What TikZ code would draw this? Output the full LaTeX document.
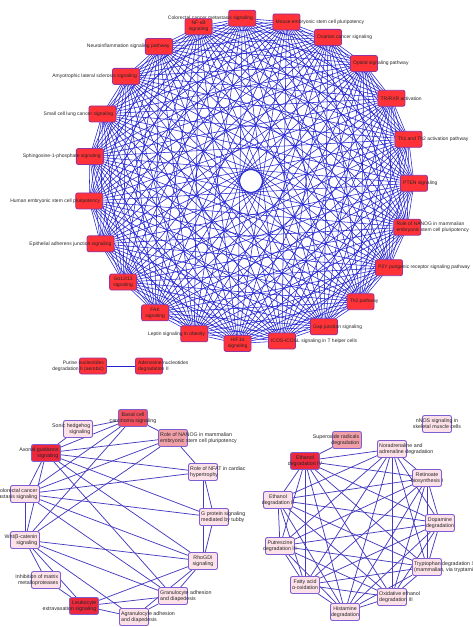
\documentclass[tikz,border=0pt]{standalone}
\usepackage{fontspec}
\setmainfont{Liberation Sans}
\usetikzlibrary{backgrounds}
\definecolor{edgeT}{RGB}{35,35,210}
\definecolor{edgeB}{RGB}{70,60,190}
\definecolor{redT}{RGB}{255,50,55}
\definecolor{borderT}{RGB}{150,50,160}
\definecolor{borderB}{RGB}{125,95,210}
\definecolor{redB}{RGB}{236,40,60}
\definecolor{basalB}{RGB}{242,80,95}
\definecolor{midB}{RGB}{242,160,168}
\definecolor{lightB}{RGB}{252,226,232}
\tikzset{
  topbox/.style={draw=borderT, fill=redT, rounded corners=2bp, minimum width=27bp, minimum height=16bp, inner sep=0pt, line width=0.8bp},
  botbox/.style={draw=borderB, fill=#1, rounded corners=2bp, minimum width=29bp, minimum height=17bp, inner sep=0pt, line width=0.9bp},
  lbl/.style={font=\fontsize{5}{6}\selectfont, inner sep=0pt, text=black!85},
  lblL/.style={lbl, anchor=east, xshift=11bp, align=right},
  lblR/.style={lbl, anchor=west, xshift=-11bp, align=left},
  lblC/.style={lbl, align=center},
  blbl/.style={font=\fontsize{5.3}{6.2}\selectfont, inner sep=0pt, text=black!85},
  blblL/.style={blbl, anchor=east, xshift=12.5bp, align=right},
  blblR/.style={blbl, anchor=west, xshift=-13bp, align=left},
  blblC/.style={blbl, align=center},
  edgeTop/.style={draw=edgeT, line width=0.55bp},
  edgeBot/.style={draw=edgeB, line width=0.75bp},
}
\begin{document}
\begin{tikzpicture}[x=1bp,y=-1bp]
\useasboundingbox (0,0) rectangle (473,627);
% ---------- top network (complete graph on 23 pathways) ----------
\foreach \i/\t/\a in {
  1/{Colorectal cancer metastasis signaling}/L,
  2/{Mouse embryonic stem cell pluripotency}/R,
  3/{Ovarian cancer signaling}/R,
  4/{Opioid signaling pathway}/R,
  5/{TR/RXR activation}/R,
  6/{Th1 and Th2 activation pathway}/R,
  7/{PTEN signaling}/R,
  8/{Role of NANOG in mammalian\\embryonic stem cell pluripotency}/R,
  9/{P2Y purigenic receptor signaling pathway}/R,
  10/{Th2 pathway}/R,
  11/{Gap junction signaling}/R,
  12/{ICOS-ICOSL signaling in T helper cells}/R,
  13/{HIF1α\\signaling}/C,
  14/{Leptin signaling in obesity}/L,
  15/{FAK\\signaling}/C,
  16/{Gα12/13\\signaling}/C,
  17/{Epithelial adherens junction signaling}/L,
  18/{Human embryonic stem cell pluripotency}/L,
  19/{Sphingosine-1-phosphate signaling}/L,
  20/{Small cell lung cancer signaling}/L,
  21/{Amyotrophic lateral sclerosis signaling}/L,
  22/{Neuroinflammation signaling pathway}/L,
  23/{NF-κB\\signaling}/C}{
  \pgfmathsetmacro\ang{93.1-15.652*(\i-1)}
  \node[topbox] (t\i) at ({251+163*cos(\ang)},{181-163*sin(\ang)}) {};
  \node[lbl\a] (lt\i) at (t\i.center) {\t};
}
\begin{pgfonlayer}{background}
\foreach \i in {1,...,22}{
  \pgfmathtruncatemacro\ii{\i+1}
  \foreach \j in {\ii,...,23}{\draw[edgeTop] (t\i.center) -- (t\j.center);}
}
\end{pgfonlayer}
% ---------- small pair ----------
\node[topbox] (pur) at (93,366) {};
\node[lblL] (lpur) at (pur.center) {Purine nucleotides\\degradation II (aerobic)};
\node[topbox] (ade) at (149,366) {};
\node[lblR] (lade) at (ade.center) {Adenosine nucleotides\\degradation II};
\begin{pgfonlayer}{background}
\draw[edgeTop, line width=0.7bp] (pur) -- (ade);
\end{pgfonlayer}
% ---------- bottom-left network ----------
\foreach \n/\x/\y/\f/\a/\t in {
  B/133/418/basalB/C/{Basal cell\\carcinoma signaling},
  S/78/429/lightB/L/{Sonic hedgehog\\signaling},
  N/173/438/midB/R/{Role of NANOG in mammalian\\embryonic stem cell pluripotency},
  A/46/453/redB/L/{Axonal guidance\\signaling},
  F/203/472/lightB/R/{Role of NFAT in cardiac\\hypertrophy},
  C/25/494/lightB/L/{Colorectal cancer\\metastasis signaling},
  G/214/517/lightB/R/{G protein signaling\\mediated by tubby},
  W/25/540/lightB/L/{Wnt/β-catenin\\signaling},
  R/203/561/lightB/C/{RhoGDI\\signaling},
  I/46/580/lightB/L/{Inhibition of matrix\\metalloproteases},
  Gr/173/596/lightB/R/{Granulocyte adhesion\\and diapedesis},
  L/84/606/redB/L/{Leukocyte\\extravasation signaling},
  Ag/134/617/lightB/R/{Agranulocyte adhesion\\and diapedesis}}{
  \node[botbox=\f] (b\n) at (\x,\y) {};
  \node[blbl\a] (lb\n) at (b\n.center) {\t};
}
\begin{pgfonlayer}{background}
\foreach \u/\v in {S/B, S/A, A/B, A/N, A/F, A/G, A/R, A/Gr, A/C, A/W, B/N, C/B, C/N, W/B, W/N,
  N/F, C/F, C/G, C/R, C/Gr, F/G, F/R, G/R,
  C/W, W/R, W/I, W/L, W/Gr, W/Ag, I/L, L/R, L/Gr, L/Ag, R/Gr, R/Ag, Gr/Ag}{
  \draw[edgeBot] (b\u) -- (b\v);
}
\end{pgfonlayer}
% ---------- bottom-right network ----------
\foreach \n/\x/\y/\f/\a/\t in {
  nos/437/424/lightB/C/{nNOS signaling in\\skeletal muscle cells},
  so/347/440/midB/L/{Superoxide radicals\\degradation},
  r1/305/461/redB/C/{Ethanol\\degradation IV},
  r2/392/449/lightB/R/{Noradrenaline and\\adrenaline degradation},
  r3/427/478/lightB/C/{Retinoate\\biosynthesis I},
  r4/440/523/lightB/C/{Dopamine\\degradation},
  r5/427/567/lightB/R/{Tryptophan degradation X\\(mammalian, via tryptamine)},
  r6/392/597/lightB/R/{Oxidative ethanol\\degradation III},
  r7/345/612/lightB/C/{Histamine\\degradation},
  r8/305/585/lightB/C/{Fatty acid\\α-oxidation},
  r9/280/546/lightB/C/{Putrescine\\degradation III},
  r10/278/500/lightB/C/{Ethanol\\degradation II}}{
  \node[botbox=\f] (b\n) at (\x,\y) {};
  \node[blbl\a] (lb\n) at (b\n.center) {\t};
}
\begin{pgfonlayer}{background}
\foreach \i in {1,...,9}{
  \pgfmathtruncatemacro\ii{\i+1}
  \foreach \j in {\ii,...,10}{\draw[edgeBot] (br\i) -- (br\j);}
}
\draw[edgeBot] (bso) -- (br1);
\end{pgfonlayer}
\end{tikzpicture}
\end{document}
